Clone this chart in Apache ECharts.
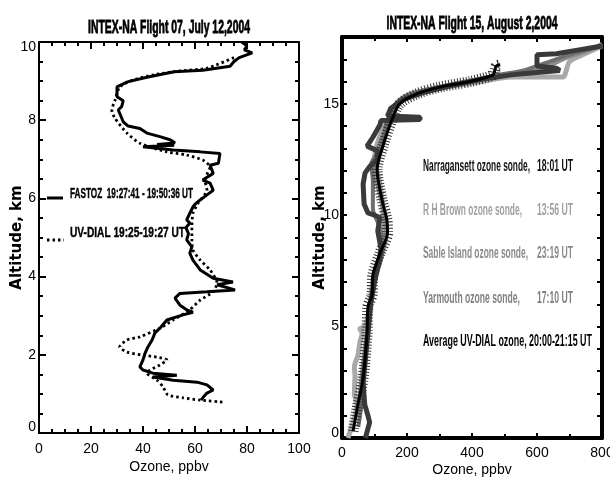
<!DOCTYPE html>
<html><head><meta charset="utf-8">
<script src="https://cdn.jsdelivr.net/npm/echarts@6/dist/echarts.min.js"></script>
<style>html,body{margin:0;padding:0;background:#fff}#c{width:610px;height:479px}</style>
</head><body><div id="c"></div>
<script>
// ---------- Data (ozone ppbv, altitude km) ----------
const leftTitle = 'INTEX-NA Flight 07, July 12,2004';
const rightTitle = 'INTEX-NA Flight 15, August 2,2004';
const leftNames = ['FASTOZ  19:27:41 - 19:50:36 UT', 'UV-DIAL 19:25-19:27 UT'];

const fastoz = [[78,10.0],[80,9.9],[79,9.8],[82,9.72],[77,9.6],[75,9.5],[73.5,9.38],[63,9.28],[52,9.24],[41.5,9.1],[34,8.98],[30,8.85],[30,8.6],[32.4,8.5],[31.8,8.35],[30.5,8.26],[32.4,7.96],[34.3,7.85],[38.8,7.79],[41.5,7.67],[46.5,7.58],[50.4,7.5],[52.3,7.42],[45.4,7.38],[52,7.36],[40,7.32],[45.4,7.28],[51.6,7.24],[62,7.19],[69.6,7.15],[69,6.9],[65.8,6.85],[67,6.64],[63,6.47],[65.8,6.39],[67,6.21],[64.6,6.09],[62,5.96],[60,5.85],[59.2,5.78],[58,5.62],[56.8,5.45],[58,5.37],[56.5,5.25],[57.5,5.1],[56.8,4.94],[58.8,4.76],[58,4.6],[59.2,4.42],[62,4.17],[67,3.96],[74.6,3.86],[68.5,3.79],[75.4,3.66],[64.6,3.61],[54.2,3.57],[52.3,3.45],[54.2,3.27],[56.8,3.15],[59.2,3.09],[55.4,3.02],[49.2,2.89],[46.5,2.68],[44.6,2.56],[43.5,2.38],[41.9,2.2],[40.8,2.04],[40,1.87],[38.8,1.69],[40,1.61],[43.8,1.53],[53,1.48],[43.8,1.43],[51.6,1.35],[60.8,1.3],[64.6,1.23],[67,1.1],[64.6,1.02],[63,0.9],[62.3,0.84]];

const dialLeft = [[75,9.6],[64.6,9.33],[54.2,9.26],[44,9.16],[36.3,9.03],[31,8.85],[29.2,8.5],[28,8.26],[29.2,8.05],[33.8,7.67],[38.8,7.41],[49.2,7.19],[56.8,7.11],[63,6.98],[65.8,6.81],[63.8,6.47],[64.6,6.21],[61.2,5.88],[59.2,5.62],[58.8,5.27],[58.8,4.94],[59.2,4.68],[62,4.42],[65.8,4.17],[68.5,3.84],[67,3.61],[62,3.4],[58,3.15],[51.6,2.89],[46.5,2.68],[38.8,2.46],[33.8,2.38],[31,2.2],[33.8,2.07],[40,1.99],[45.4,1.94],[49.2,1.87],[46.5,1.74],[42.7,1.61],[41.5,1.53],[45.4,1.35],[47.7,1.18],[49.6,0.97],[55.4,0.9],[62,0.84],[70.8,0.79]];

const rightNames = ['Narragansett ozone sonde,', 'R H Brown ozone sonde,', 'Sable Island ozone sonde,', 'Yarmouth ozone sonde,', 'Average UV-DIAL ozone, 20:00-21:15 UT'];
const rightTimes = ['18:01 UT', '13:56 UT', '23:19 UT', '17:10 UT', ''];

const narragansett = [[72,0.0],[85,0.7],[80,1.0],[70,1.5],[65,2.5],[75,4],[82,5],[88,6],[100,7],[115,8],[120,8.5],[110,9.3],[117,9.9],[100,10.0],[80,10.1],[68,10.5],[65,11.4],[71,11.9],[86,12.2],[110,12.5],[108,12.9],[77,13.1],[95,13.5],[117,14.06],[120,14.25],[240,14.3],[240,14.4],[140,14.45],[150,14.8],[190,15.2],[250,15.5],[330,15.8],[430,16.1],[520,16.3],[590,16.4],[670,16.5],[660,16.6],[600,16.7],[600,17.2],[660,17.25],[720,17.4],[800,17.6]];

const rhBrown = [[18,0.0],[30,0.5],[40,1.0],[46,1.5],[38,2.0],[40,2.8],[38,3.2],[49,3.7],[55,4.3],[62,4.7],[55,4.9],[70,5.0],[80,5.5],[90,6.5],[100,7.5],[125,8.5],[128,9.5],[125,10.5],[115,11.5],[100,12.5],[115,13.5],[150,14.5],[170,15.0],[240,15.5],[340,15.8],[430,16.0],[520,16.2],[680,16.2],[690,16.5],[700,16.9],[740,17.2],[800,17.6]];

const sable = [[45,1],[55,2],[62,3],[70,4],[78,5],[85,6],[100,7],[118,8],[135,9],[130,10],[115,11],[100,12],[110,13],[140,14],[175,15],[240,15.5],[320,15.8],[420,16.1],[500,16.3],[560,16.4],[620,16.6],[680,17],[760,17.4],[800,17.7]];

const yarmouth = [[50,0.5],[60,1.5],[68,3],[80,5],[100,7],[125,8.5],[115,9.5],[95,10.3],[95,11.5],[90,12.3],[120,13],[135,14],[165,15],[220,15.5],[380,16],[480,16.3],[560,16.5],[620,16.8],[700,17.2],[800,17.6]];

const dialAvg = [[34,0.3],[49,1.5],[65,2.7],[77,4.7],[80,5.9],[92,6.4],[95,7.3],[117,8.3],[140,9.2],[138,9.8],[123,10.7],[108,12.05],[126,13.1],[154,14.3],[178,15.0],[230,15.45],[300,15.75],[394,16.0],[465,16.3],[470,16.5],[475,16.7],[487,16.75]];

// ---------- Chart ----------
const SANS = '"Liberation Sans",Arial,sans-serif';
const chart = echarts.init(document.getElementById('c'), null, {renderer: 'canvas'});

// measure text to fit a condensed look via horizontal scaling of a group
const mctx = document.createElement('canvas').getContext('2d');
function textW(text, size, weight) {
  mctx.font = (weight || 'normal') + ' ' + size + 'px ' + SANS;
  return mctx.measureText(text).width;
}
function condText(text, x, y, targetW, size, weight, color, align, heavy) {
  const s = targetW / textW(text, size, weight);
  const style = {text, fontFamily: SANS, fontSize: size, fontWeight: weight || 'normal', fill: color,
    align: align || 'left', verticalAlign: 'middle', textAlign: align || 'left', textVerticalAlign: 'middle'};
  if (heavy) { style.stroke = color; style.lineWidth = heavy; }
  return {
    type: 'group', x, y, scaleX: s, scaleY: 1, silent: true,
    children: [{type: 'text', x: 0, y: 0, silent: true, z: 100, style}]
  };
}

function frameAxes(gridIndex, opts) {
  const lineStyle = {color: '#000', width: opts.lw};
  const tick = {show: true, inside: true, length: opts.tickLen, lineStyle: {color: '#000', width: 2}};
  const minorX = {show: true, splitNumber: opts.minorX, length: opts.minorLen, lineStyle: {color: '#000', width: 2}};
  const minorY = opts.minorY ? Object.assign({}, minorX, {splitNumber: opts.minorY}) : {show: false};
  const x = {
    type: 'value', gridIndex, min: opts.xmin, max: opts.xmax, interval: opts.xint,
    axisLine: {show: true, onZero: false, lineStyle}, axisTick: tick, minorTick: minorX,
    splitLine: {show: false},
    axisLabel: {color: '#000', fontFamily: SANS, fontSize: 14, margin: opts.xLabelMargin},
    name: 'Ozone, ppbv', nameLocation: 'middle', nameGap: opts.xNameGap, nameMoveOverlap: false,
    nameTextStyle: {color: '#000', fontFamily: SANS, fontSize: 14}
  };
  const xTop = Object.assign({}, x, {position: 'top', axisLabel: {show: false}, name: ''});
  const y = {
    type: 'value', gridIndex, min: opts.ymin, max: opts.ymax, interval: opts.yint,
    axisLine: {show: true, onZero: false, lineStyle}, axisTick: tick, minorTick: minorY,
    splitLine: {show: false},
    axisLabel: {color: '#000', fontFamily: SANS, fontSize: 14, margin: 3,
      formatter: v => {
        if (!opts.yShow(v)) return '';
        if (v === opts.ymin) return '{lo|' + v + '}';
        if (v === opts.ymax) return '{hi|' + v + '}';
        return String(v);
      },
      rich: {
        lo: {fontFamily: SANS, fontSize: 14, color: '#000', padding: [0, 0, opts.loPad, 0]},
        hi: {fontFamily: SANS, fontSize: 14, color: '#000', padding: [opts.hiPad, 0, 0, 0]}
      }},
    name: 'Altitude, km', nameLocation: 'middle', nameGap: opts.yNameGap, nameRotate: 90, nameMoveOverlap: false,
    nameTextStyle: {color: '#000', fontFamily: '"DejaVu Sans",sans-serif', fontWeight: 'bold', fontSize: 15}
  };
  const yRight = Object.assign({}, y, {position: 'right', axisLabel: {show: false}, name: ''});
  return {x: [x, xTop], y: [y, yRight]};
}

const L = frameAxes(0, {lw: 2, tickLen: 7, minorLen: 4, xmin: 0, xmax: 100, xint: 20, minorX: 4,
  ymin: 0, ymax: 10, yint: 2, minorY: 4, xNameGap: 27, yNameGap: 14, xLabelMargin: 9,
  loPad: 12, hiPad: 10, yShow: v => true});
const R = frameAxes(1, {lw: 4, tickLen: 5, minorLen: 4, xmin: 0, xmax: 800, xint: 200, minorX: 2,
  ymin: 0, ymax: 18, yint: 1, minorY: 0, xNameGap: 25, yNameGap: 14, xLabelMargin: 8,
  loPad: 10, hiPad: 0, yShow: v => v % 5 === 0 && v < 18});

function line(name, data, xi, yi, style, extra) {
  return Object.assign({
    name, type: 'line', data, xAxisIndex: xi, yAxisIndex: yi, showSymbol: false, symbol: 'none',
    lineStyle: style, itemStyle: {color: style.color}, animation: false, silent: true
  }, extra || {});
}

const series = [
  line(leftNames[0], fastoz, 0, 0, {color: '#000', width: 3}),
  line(leftNames[1], dialLeft, 0, 0, {color: '#000', width: 2.8, type: [2.5, 3]}, {smooth: 0.2}),
  line(rightNames[1], rhBrown, 2, 2, {color: '#a9a9a9', width: 5}, {smooth: 0.3}),
  line(rightNames[2], sable, 2, 2, {color: '#8e8e8e', width: 4}, {smooth: 0.3}),
  line(rightNames[3], yarmouth, 2, 2, {color: '#707070', width: 4}, {smooth: 0.3}),
  line(rightNames[0], narragansett, 2, 2, {color: '#3a3a3a', width: 5}),
  line('UV-DIAL error', dialAvg, 2, 2, {color: '#333', width: 11, type: [1, 2]}, {smooth: 0.3}),
  line(rightNames[4], dialAvg, 2, 2, {color: '#000', width: 3}, {smooth: 0.3})
];

// legend / title text (real text, condensed via horizontal scale)
const rightColors = ['#111', '#a0a0a0', '#8a8a8a', '#808080', '#000'];
const rightY = [167, 211, 254, 299, 342];
const rightNameW = [107, 99, 105, 97, 169];
const graphics = [
  condText(leftTitle, 169, 28, 162, 19, 'bold', '#000', 'center', 0.8),
  condText(rightTitle, 472, 24, 171, 19, 'bold', '#000', 'center', 0.8),
  {type: 'line', silent: true, shape: {x1: 47, y1: 198, x2: 63, y2: 198}, style: {stroke: '#000', lineWidth: 3}},
  {type: 'line', silent: true, shape: {x1: 47, y1: 240, x2: 64, y2: 240}, style: {stroke: '#000', lineWidth: 2.8, lineDash: [2.5, 3]}},
  condText(leftNames[0], 70, 194, 123, 15, 'bold', '#000', 'left', 0.4),
  condText(leftNames[1], 70, 233, 115, 15, 'bold', '#000', 'left', 0.4)
];
rightNames.forEach((n, i) => {
  graphics.push(condText(n, 423, rightY[i], rightNameW[i], 16, 'bold', rightColors[i]));
  if (rightTimes[i]) graphics.push(condText(rightTimes[i], 573, rightY[i], 36, 16, 'bold', rightColors[i], 'right'));
});

const option = {
  backgroundColor: '#fff',
  animation: false,
  grid: [
    {left: 39, top: 42, width: 260, height: 391, containLabel: false, outerBoundsMode: 'none'},
    {left: 342, top: 37, width: 260, height: 401, containLabel: false, outerBoundsMode: 'none'}
  ],
  xAxis: [L.x[0], L.x[1], R.x[0], R.x[1]],
  yAxis: [L.y[0], L.y[1], R.y[0], R.y[1]],
  series,
  graphic: {elements: graphics}
};
chart.setOption(option);
</script></body></html>
